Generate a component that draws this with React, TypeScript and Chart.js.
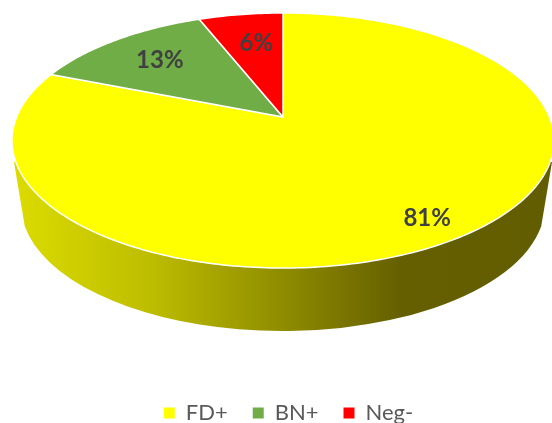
import { useEffect, useRef } from "react";
import { Chart, PieController, ArcElement, Legend } from "chart.js";

const categories = ["FD+", "BN+", "Neg-"];
const shares = [81, 13, 6];
const sliceColors = ["#ffff00", "#70ad47", "#ff0000"];
const labelRadii = [0.865, 0.715, 0.69];
const labelNudges = [-5, 0, 4];

// Viewing model of the tilted disc, in canvas pixels.
const APEX_X = 283;
const APEX_Y = 117;
const SPREAD_X = 266.4;
const SPREAD_Y = 123.2;
const FORESHORTEN = 0.1843;
const EDGE_COLOR = "#ffffff";
const EDGE_WIDTH = 1.5;

const project = (angle: number, r: number) => {
  const w = 1 - FORESHORTEN * r * Math.sin(angle);
  return {
    x: APEX_X + (SPREAD_X * r * Math.cos(angle)) / w,
    y: APEX_Y + (SPREAD_Y * r * Math.sin(angle)) / w,
  };
};

// A pie slice drawn on a disc seen in perspective.
class TiltedArc extends ArcElement {
  static id = "tiltedArc";
  draw(ctx: CanvasRenderingContext2D) {
    const { startAngle, endAngle } = this as any;
    const steps = Math.max(8, Math.ceil((endAngle - startAngle) * 60));
    ctx.save();
    ctx.beginPath();
    const apex = project(0, 0);
    ctx.moveTo(apex.x, apex.y);
    for (let i = 0; i <= steps; i++) {
      const p = project(startAngle + ((endAngle - startAngle) * i) / steps, 1);
      ctx.lineTo(p.x, p.y);
    }
    ctx.closePath();
    ctx.fillStyle = (this as any).options.backgroundColor;
    ctx.fill();
    ctx.strokeStyle = EDGE_COLOR;
    ctx.lineWidth = EDGE_WIDTH;
    ctx.lineJoin = "round";
    ctx.stroke();
    ctx.restore();
  }
}

class TiltedPie extends PieController {
  static id = "tiltedPie";
  static defaults = { ...PieController.defaults, dataElementType: "tiltedArc" };
  static overrides = PieController.overrides;
}

// Shaded side wall of the disc, painted beneath the slices.
const wallPlugin = {
  id: "discWall",
  beforeDatasetsDraw(chart: Chart) {
    const { ctx } = chart;
    const cy = 205;
    const rx = 262;
    const ry = 126;
    const sideCut = 0.17;
    const shade = ctx.createLinearGradient(13, 0, 552, 0);
    shade.addColorStop(0, "#dcdc00");
    shade.addColorStop(0.25, "#bebe00");
    shade.addColorStop(0.5, "#8f8c00");
    shade.addColorStop(0.72, "#655f00");
    shade.addColorStop(1, "#625d00");
    ctx.save();
    ctx.beginPath();
    ctx.moveTo(14, 162);
    ctx.lineTo(552, 162);
    ctx.ellipse(APEX_X, cy, rx, ry, 0, sideCut, Math.PI - sideCut);
    ctx.closePath();
    ctx.fillStyle = shade;
    ctx.fill();
    ctx.restore();
  },
};

// Percentage text placed on each slice.
const percentPlugin = {
  id: "percentLabels",
  afterDatasetsDraw(chart: Chart) {
    const { ctx } = chart;
    const arcs = chart.getDatasetMeta(0).data as any[];
    ctx.save();
    ctx.font = "700 24px Lato";
    ctx.fillStyle = "#404040";
    ctx.textAlign = "center";
    ctx.textBaseline = "middle";
    arcs.forEach((arc, i) => {
      const p = project((arc.startAngle + arc.endAngle) / 2, labelRadii[i]);
      ctx.fillText(`${shares[i]}%`, p.x + labelNudges[i], p.y);
    });
    ctx.restore();
  },
};

Chart.register(TiltedPie, TiltedArc, Legend);

export default function App() {
  const ref = useRef<HTMLCanvasElement>(null);
  useEffect(() => {
    const chart = new Chart(ref.current!, {
      type: "tiltedPie" as any,
      data: {
        labels: categories,
        datasets: [{ data: shares, backgroundColor: sliceColors, borderWidth: 0 }],
      },
      options: {
        animation: false,
        responsive: false,
        layout: { padding: { left: 25 } },
        plugins: {
          legend: {
            position: "bottom",
            labels: {
              boxWidth: 11,
              boxHeight: 11,
              padding: 25,
              color: "#595959",
              font: { family: "Lato", size: 22 },
            },
          },
          tooltip: { enabled: false },
        },
      },
      plugins: [wallPlugin, percentPlugin],
    } as any);
    return () => chart.destroy();
  }, []);
  return (
    <div style={{ position: "absolute", left: 0, top: 0, width: 552, height: 423, overflow: "hidden" }}>
      <canvas ref={ref} width={552} height={434} style={{ display: "block" }} />
    </div>
  );
}
